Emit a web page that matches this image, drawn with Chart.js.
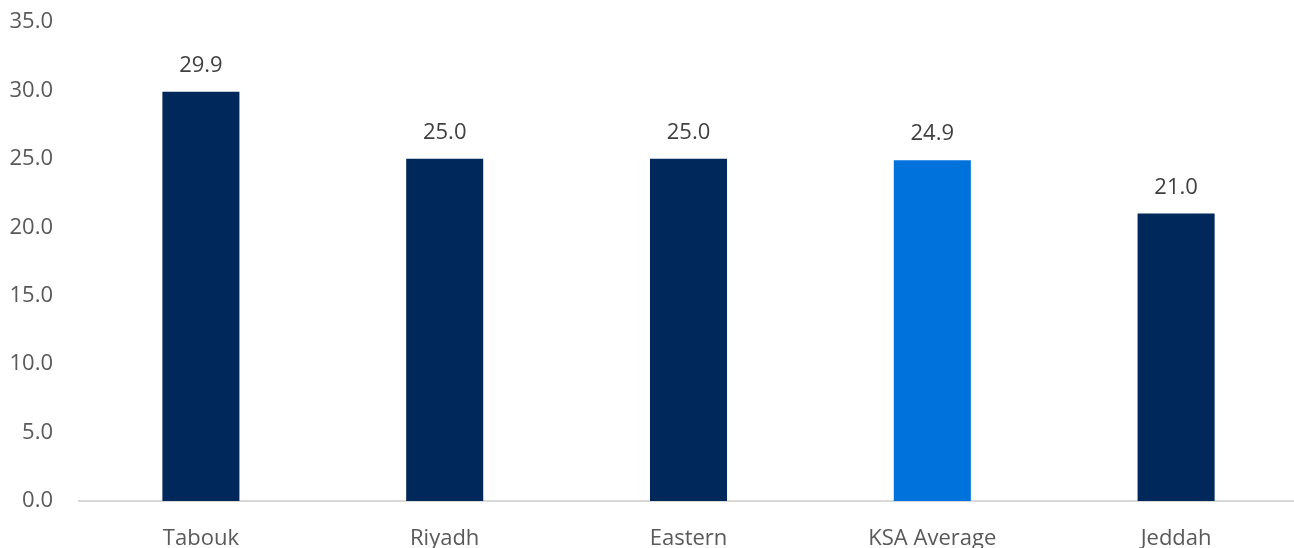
<!DOCTYPE html>
<html>
<head>
<meta charset="utf-8">
<script src="https://cdn.jsdelivr.net/npm/chart.js@4/dist/chart.umd.min.js"></script>
<style>
  html, body { margin: 0; padding: 0; background: #fff; overflow: hidden; }
  #wrap { width: 1298px; height: 560px; }
</style>
</head>
<body>
<div id="wrap"><canvas id="myChart" width="1298" height="560"></canvas></div>
<script>
// regions and their values
let regions = ['Tabouk', 'Riyadh', 'Eastern', 'KSA Average', 'Jeddah'];
let values = [29.9, 25.0, 25.0, 24.9, 21.0];
let barColors = ['#00285a', '#00285a', '#00285a', '#0072db', '#00285a'];

let yMax = 35;
let yStep = 5;

// value labels above each bar
let valueLabels = {
    id: 'valueLabels',
    afterDatasetsDraw(chart) {
        let ctx = chart.ctx;
        let meta = chart.getDatasetMeta(0);
        ctx.save();
        ctx.font = '22px "Open Sans"';
        ctx.fillStyle = '#404040';
        ctx.textAlign = 'center';
        ctx.textBaseline = 'middle';
        meta.data.forEach((bar, i) => {
            ctx.fillText(values[i].toFixed(1), bar.x, bar.y - 26);
        });
        ctx.restore();
    }
};

let ctx = document.querySelector('#myChart').getContext('2d');

let myChart = new Chart(ctx, {
    type: 'bar',
    data: {
        labels: regions,
        datasets: [{
            data: values,
            backgroundColor: barColors,
            borderWidth: 0,
            categoryPercentage: 1,
            barPercentage: 0.316
        }]
    },
    options: {
        responsive: false,
        animation: false,
        layout: { padding: 0 },
        plugins: {
            legend: { display: false },
            tooltip: { enabled: false }
        },
        scales: {
            x: {
                grid: { display: false, drawTicks: false },
                border: { display: true, color: '#d9d9d9', width: 2 },
                ticks: {
                    color: '#595959',
                    font: { family: 'Open Sans', size: 22 },
                    padding: 25
                },
                afterFit(scale) { scale.height = 59; }
            },
            y: {
                min: 0,
                max: yMax,
                grid: { display: false, drawTicks: false },
                border: { display: false },
                ticks: {
                    stepSize: yStep,
                    color: '#595959',
                    font: { family: 'Open Sans', size: 22 },
                    padding: 26,
                    callback: v => v.toFixed(1)
                },
                afterFit(scale) {
                    scale.width = 79;
                    scale.paddingTop = 22;
                    scale.paddingBottom = 0;
                }
            }
        }
    },
    plugins: [valueLabels]
});
</script>
</body>
</html>
